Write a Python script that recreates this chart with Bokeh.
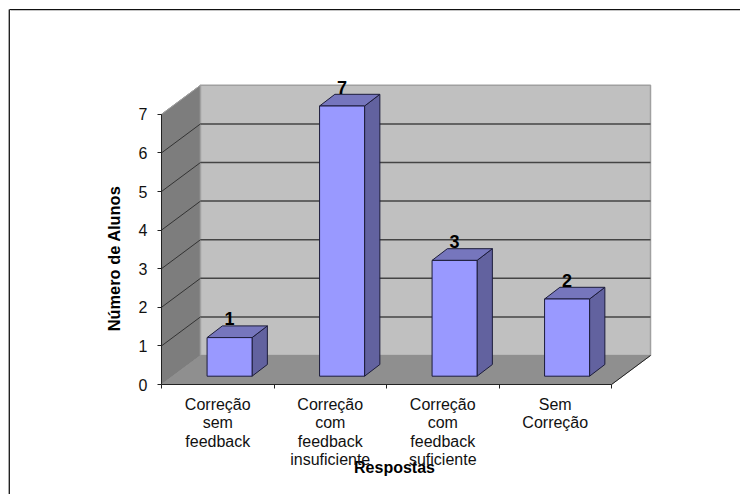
from bokeh.core.properties import value
from bokeh.embed import file_html
from bokeh.models import FixedTicker, Range1d
from bokeh.plotting import figure
from bokeh.resources import INLINE

categories = ["Correção\nsem\nfeedback", "Correção\ncom\nfeedback\ninsuficiente",
              "Correção\ncom\nfeedback\nsuficiente", "Sem\nCorreção"]
counts = [1, 7, 3, 2]
y_ticks = [0, 1, 2, 3, 4, 5, 6, 7]
x_title = "Respostas"
y_title = "Número de Alunos"

FONT = "Liberation Sans"
WIDTH, HEIGHT = 740, 494
ORIGIN_X, ORIGIN_Y = 161, 384   # where the two axes meet, in page pixels
UNIT_X = 112.5                  # pixels per category
UNIT_Y = 38.6                   # pixels per student


def px_x(px):
    """Data x of a horizontal page position."""
    return (px - ORIGIN_X) / UNIT_X


def px_y(py):
    """Data y of a vertical page position."""
    return (ORIGIN_Y - py) / UNIT_Y


# Oblique projection of the chart box and of each column
DEPTH_X, DEPTH_Y = 39 / UNIT_X, 29 / UNIT_Y
BAR_DX, BAR_DY = 15.3 / UNIT_X, 11.7 / UNIT_Y
BAR_WIDTH, BAR_LEFT = 0.4, 0.405
BAR_BASE = 8.3 / UNIT_Y

# The frame fills the page; the axes are pinned inside it at data zero
p = figure(width=WIDTH, height=HEIGHT, frame_width=WIDTH, frame_height=HEIGHT, min_border=0,
           x_range=Range1d(px_x(0), px_x(WIDTH)), y_range=Range1d(px_y(HEIGHT), px_y(0)),
           output_backend="svg", toolbar_location=None,
           outline_line_color=None, background_fill_color="white", border_fill_color="white")
p.grid.visible = False

n = len(categories)
top = max(y_ticks)

# Page rule along the top and left, running off the window edges
p.segment([px_x(10)], [px_y(10)], [px_x(WIDTH)], [px_y(10)], line_color="#c4c4c4", line_width=1)
p.segment([px_x(8)], [px_y(9)], [px_x(8)], [px_y(HEIGHT)], line_color="#a8a8a8", line_width=1)
p.segment([px_x(9)], [px_y(9)], [px_x(WIDTH)], [px_y(9)], line_color="#111111", line_width=1)
p.segment([px_x(9)], [px_y(9)], [px_x(9)], [px_y(HEIGHT)], line_color="#222222", line_width=1)

# Left wall, back wall and floor
p.patch([0, DEPTH_X, DEPTH_X, 0], [0, DEPTH_Y, top + DEPTH_Y, top], fill_color="#7d7d7d", line_color="#7d7d7d")
p.patch([DEPTH_X, n + DEPTH_X, n + DEPTH_X, DEPTH_X], [DEPTH_Y, DEPTH_Y, top + DEPTH_Y, top + DEPTH_Y],
        fill_color="#c0c0c0", line_color="#a0a0a0", line_width=1.5)
p.patch([0, n, n + DEPTH_X, DEPTH_X], [0, 0, DEPTH_Y, DEPTH_Y], fill_color="#8f8f8f", line_color="#8f8f8f")
p.segment([n], [0], [n + DEPTH_X], [DEPTH_Y], line_color="#222222", line_width=1)

# Gridlines across the back wall and down the left wall
grid_levels = [v for v in y_ticks if 0 < v < top]
p.segment([DEPTH_X] * len(grid_levels), [v + DEPTH_Y for v in grid_levels],
          [n + DEPTH_X] * len(grid_levels), [v + DEPTH_Y for v in grid_levels],
          line_color="#444444", line_width=1.5)
p.segment([0] * len(grid_levels), grid_levels,
          [DEPTH_X] * len(grid_levels), [v + DEPTH_Y for v in grid_levels],
          line_color="#333333", line_width=1)
p.segment([0], [top], [DEPTH_X], [top + DEPTH_Y], line_color="#a0a0a0", line_width=1)

# Columns: front, side and top faces
lefts = [i + BAR_LEFT for i in range(n)]
rights = [x + BAR_WIDTH for x in lefts]
tops = [BAR_BASE + c for c in counts]

p.patches([[r, r + BAR_DX, r + BAR_DX, r] for r in rights],
          [[BAR_BASE, BAR_BASE + BAR_DY, t + BAR_DY, t] for t in tops],
          fill_color="#62629f", line_color="#1c1c3a", line_width=1)
p.patches([[l, l + BAR_DX, r + BAR_DX, r] for l, r in zip(lefts, rights)],
          [[t, t + BAR_DY, t + BAR_DY, t] for t in tops],
          fill_color="#7676bd", line_color="#1c1c3a", line_width=1)
p.quad(left=lefts, right=rights, bottom=BAR_BASE, top=tops,
       fill_color="#9999ff", line_color="#1c1c3a", line_width=1)

# Value labels above the columns
p.text(x=[l + BAR_WIDTH / 2 for l in lefts], y=[t + 19 / UNIT_Y for t in tops], text=[str(c) for c in counts],
       text_font=value(FONT), text_font_size="18px", text_font_style="bold",
       text_align="center", text_baseline="middle", text_color="black")

# Axes: category names sit between the tick marks
xa = p.xaxis[0]
xa.fixed_location = 0
xa.ticker = FixedTicker(ticks=[i + 0.5 for i in range(n)], minor_ticks=list(range(n + 1)))
xa.major_label_overrides = {i + 0.5: c for i, c in enumerate(categories)}
xa.bounds = (0, n)
xa.major_tick_line_color = None
xa.minor_tick_line_color = "#222222"
xa.minor_tick_out, xa.minor_tick_in = 4, 0
xa.major_tick_out, xa.major_tick_in = 0, 0
xa.axis_line_color = "#222222"
xa.axis_line_width = 1
xa.major_label_standoff = 7
xa.major_label_orientation = "horizontal"
xa.major_label_text_font = FONT
xa.major_label_text_font_size = "16px"
xa.major_label_text_color = "#111111"
xa.major_label_text_line_height = 1.094

ya = p.yaxis[0]
ya.fixed_location = 0
ya.ticker = FixedTicker(ticks=y_ticks)
ya.minor_tick_line_color = None
ya.bounds = (0, top)
ya.major_tick_line_color = "#222222"
ya.major_tick_out, ya.major_tick_in = 4, 0
ya.axis_line_color = "#222222"
ya.major_label_standoff = 10
ya.major_label_text_font = FONT
ya.major_label_text_font_size = "16px"
ya.major_label_text_color = "#111111"

# Axis titles are placed by hand so that they can overlap the category names
p.text(x=[px_x(394)], y=[px_y(467)], text=[x_title], text_font=value(FONT), text_font_size="16px",
       text_font_style="bold", text_align="center", text_baseline="middle", text_color="black")
p.text(x=[px_x(113)], y=[px_y(258)], text=[y_title], angle=90, angle_units="deg", text_font=value(FONT),
       text_font_size="16.4px", text_font_style="bold", text_align="center", text_baseline="middle",
       text_color="black")

open("out.html", "w").write(file_html(p, INLINE))
